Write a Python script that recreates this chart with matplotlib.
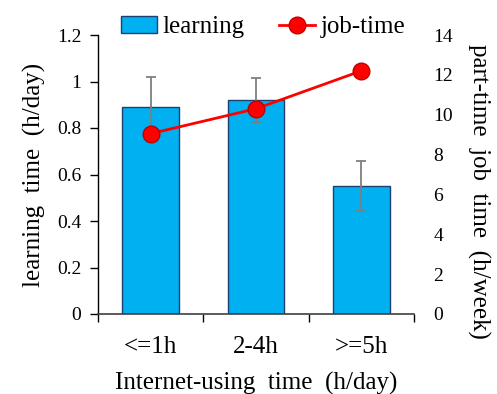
import matplotlib
matplotlib.use("Agg")
import matplotlib.pyplot as plt
from matplotlib.patches import Patch
from matplotlib.lines import Line2D

# data
categories = ["<=1h", "2-4h", ">=5h"]
learning = [0.89, 0.92, 0.55]
learning_err = [0.13, 0.094, 0.108]
job_time = [9.05, 10.3, 12.2]


def main():
    plt.rcParams["font.family"] = ["Liberation Serif", "DejaVu Serif"]

    fig = plt.figure(figsize=(4.97, 3.94), dpi=100)
    ax = fig.add_axes([98 / 497, 1 - 314 / 394, 316 / 497, 279 / 394])

    x = list(range(len(categories)))
    ax.bar(x, learning, width=0.54, color="#00B0F0", edgecolor="#1F3F73",
           linewidth=1.0, zorder=2)
    ax.errorbar(x, learning, yerr=learning_err, fmt="none", ecolor="#7F7F7F",
                elinewidth=1.3, capsize=3.5, capthick=1.3, zorder=3)

    ax.set_xlim(-0.5, 2.5)
    ax.set_ylim(0, 1.2)
    ax.set_yticks([0, 0.2, 0.4, 0.6, 0.8, 1.0, 1.2])
    ax.set_yticklabels(["0", "0.2", "0.4", "0.6", "0.8", "1", "1.2"])
    ax.set_xticks([-0.5, 0.5, 1.5, 2.5])
    ax.set_xticklabels([])
    ax.set_xticks(x, minor=True)
    ax.set_xticklabels(categories, minor=True, fontsize=18)
    ax.tick_params(axis="x", which="major", direction="out", length=6, width=1)
    ax.tick_params(axis="x", which="minor", length=0, pad=16)
    ax.tick_params(axis="y", direction="out", length=6, width=1, labelsize=14, pad=6)
    for side in ["top", "right"]:
        ax.spines[side].set_visible(False)
    ax.spines["left"].set_linewidth(1)
    ax.spines["bottom"].set_linewidth(1.2)
    ax.spines["bottom"].set_color("#404040")

    ax.set_ylabel("learning  time  (h/day)", fontsize=18, labelpad=8)
    ax.set_xlabel("Internet-using  time  (h/day)", fontsize=18, labelpad=10)

    ax2 = ax.twinx()
    ax2.plot(x, job_time, color="#FF0000", linewidth=2, marker="o",
             markersize=12, markerfacecolor="#FF0000", markeredgecolor="#C00000",
             markeredgewidth=1, zorder=4)
    ax2.set_ylim(0, 14)
    ax2.set_yticks(range(0, 15, 2))
    ax2.tick_params(axis="y", length=0, labelsize=14, pad=14)
    for side in ["top", "right", "left", "bottom"]:
        ax2.spines[side].set_visible(False)
    ax2.set_ylabel("part-time  job  time  (h/week)", fontsize=18, rotation=270,
                   labelpad=22)
    ax2.yaxis.set_label_coords(1.24, 0.44)

    handles = [
        Patch(facecolor="#00B0F0", edgecolor="#1F3F73", linewidth=1.0),
        Line2D([0], [0], color="#FF0000", linewidth=2, marker="o",
               markersize=12, markerfacecolor="#FF0000",
               markeredgecolor="#C00000"),
    ]
    fig.legend(handles, ["learning", "job-time"], loc="center",
               bbox_to_anchor=(263 / 497, 1 - 27 / 394), ncol=2, frameon=False,
               fontsize=18, handlelength=1.45, handletextpad=0.2,
               columnspacing=1.4, borderaxespad=0)

    fig.savefig("out.png", dpi=100)


if __name__ == "__main__":
    main()
